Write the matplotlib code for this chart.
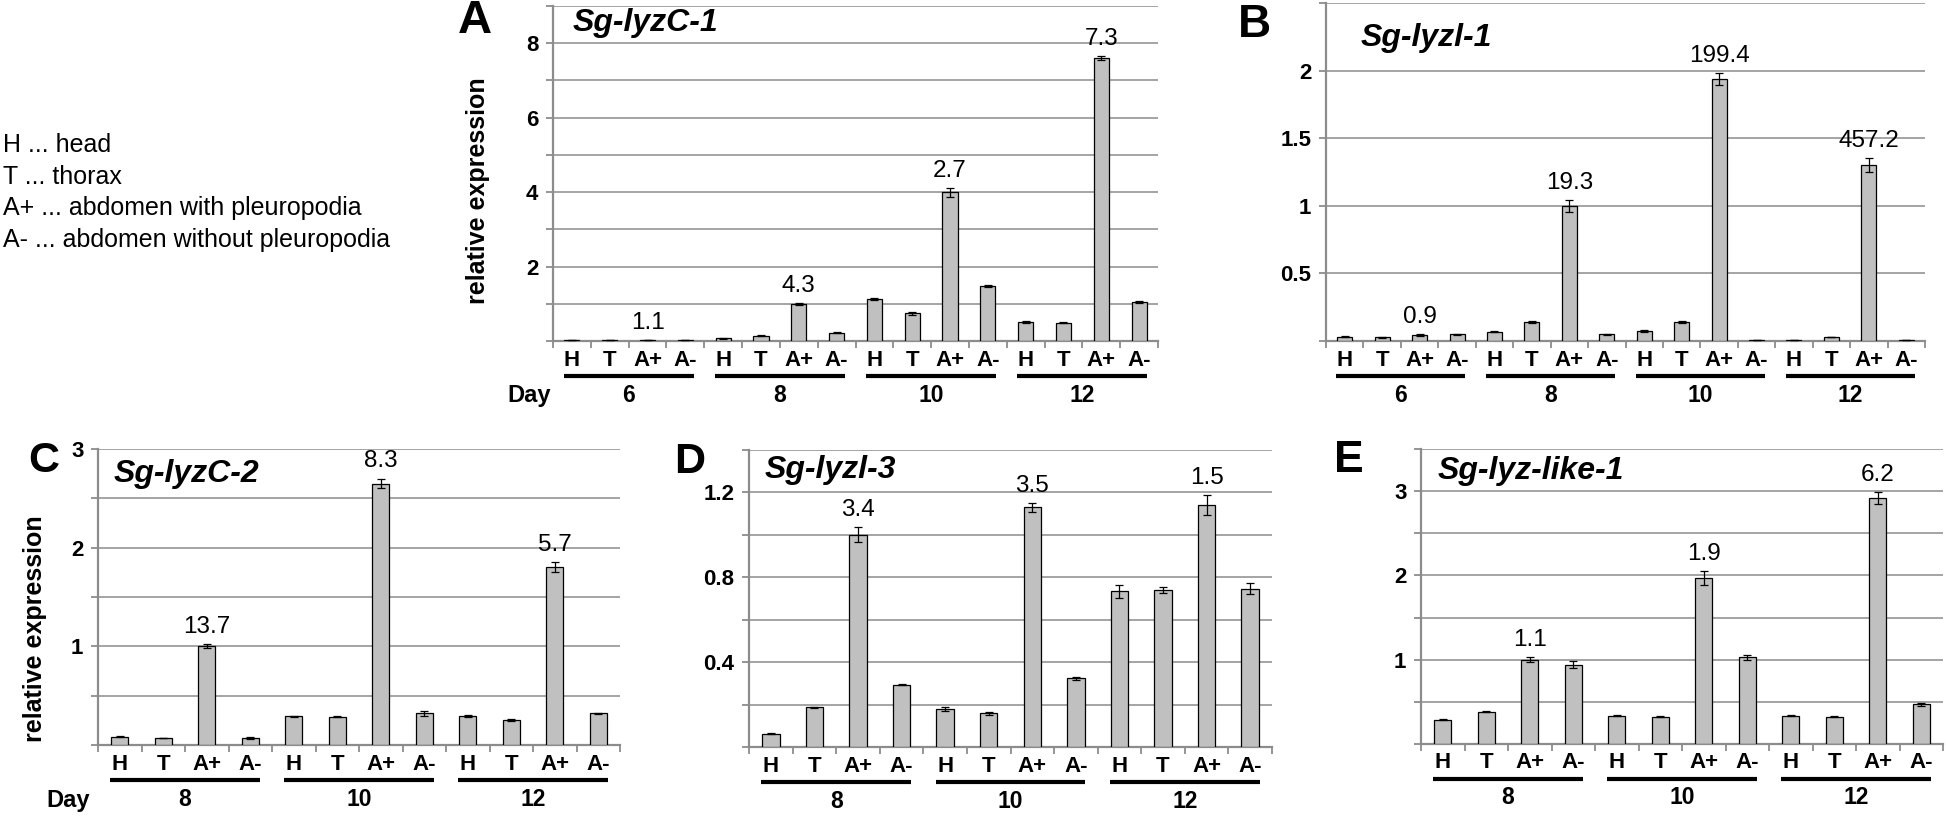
import matplotlib.pyplot as plt
import numpy as np
from matplotlib.transforms import blended_transform_factory

plt.rcParams['font.family'] = ['Liberation Sans', 'DejaVu Sans']

W, H = 1946, 816

tissues = ['H', 'T', 'A+', 'A-']

# A  Sg-lyzC-1
a_days = ['6', '8', '10', '12']
a_vals = [0.03, 0.03, 0.03, 0.03, 0.07, 0.14, 1.0, 0.22,
          1.12, 0.74, 3.99, 1.47, 0.52, 0.49, 7.61, 1.05]
a_err = [0.005, 0.005, 0.005, 0.005, 0.01, 0.01, 0.02, 0.01,
         0.03, 0.03, 0.13, 0.03, 0.03, 0.01, 0.05, 0.03]
a_fold = ['1.1', '4.3', '2.7', '7.3']

# B  Sg-lyzl-1
b_days = ['6', '8', '10', '12']
b_vals = [0.03, 0.027, 0.042, 0.05, 0.07, 0.14, 1.0, 0.05,
          0.072, 0.14, 1.94, 0.008, 0.008, 0.03, 1.30, 0.008]
b_err = [0.004, 0.002, 0.008, 0.002, 0.002, 0.005, 0.045, 0.002,
         0.006, 0.006, 0.045, 0.001, 0.001, 0.002, 0.05, 0.001]
b_fold = ['0.9', '19.3', '199.4', '457.2']

# C  Sg-lyzC-2
c_days = ['8', '10', '12']
c_vals = [0.085, 0.07, 1.0, 0.07, 0.29, 0.285, 2.65, 0.32,
          0.29, 0.25, 1.80, 0.32]
c_err = [0.008, 0.003, 0.02, 0.008, 0.003, 0.005, 0.05, 0.025,
         0.01, 0.01, 0.05, 0.006]
c_fold = ['13.7', '8.3', '5.7']

# D  Sg-lyzl-3
d_days = ['8', '10', '12']
d_vals = [0.063, 0.188, 1.0, 0.293, 0.18, 0.158, 1.13, 0.324,
          0.734, 0.74, 1.142, 0.747]
d_err = [0.002, 0.002, 0.036, 0.003, 0.01, 0.005, 0.02, 0.008,
         0.03, 0.015, 0.047, 0.025]
d_fold = ['3.4', '3.5', '1.5']

# E  Sg-lyz-like-1
e_days = ['8', '10', '12']
e_vals = [0.29, 0.385, 1.0, 0.94, 0.337, 0.325, 1.97, 1.028,
          0.337, 0.325, 2.92, 0.47]
e_err = [0.005, 0.01, 0.03, 0.04, 0.005, 0.01, 0.085, 0.03,
         0.01, 0.004, 0.07, 0.02]
e_fold = ['1.1', '1.9', '6.2']

legend_lines = ['H ... head', 'T ... thorax',
                'A+ ... abdomen with pleuropodia',
                'A- ... abdomen without pleuropodia']

GRID = '#8c8c8c'


def px(x, y):
    return x / W, 1 - y / H


def make_axes(fig, left, right, top, bottom):
    return fig.add_axes([left / W, 1 - bottom / H, (right - left) / W, (bottom - top) / H])


def panel(ax, vals, err, days, fold, ymax, step, labeled):
    n = len(vals)
    x = np.arange(n)
    ax.bar(x, vals, width=0.4, color='#c0c0c0', edgecolor='black', linewidth=0.9, zorder=3)
    ax.errorbar(x, vals, yerr=err, fmt='none', ecolor='black', elinewidth=0.9,
                capsize=3.2, capthick=0.9, zorder=4)
    ax.set_xlim(-0.5, n - 0.5)
    ax.set_ylim(0, ymax)
    yt = np.round(np.arange(0, ymax + step / 2, step), 3)
    ax.set_yticks(yt)
    ax.set_yticklabels(['%g' % v if any(abs(v - l) < 1e-6 for l in labeled) else '' for v in yt],
                       fontsize=16, fontweight='bold')
    ax.set_xticks(np.arange(-0.5, n, 1.0))
    ax.set_xticklabels([])
    ax.tick_params(axis='y', direction='out', length=5, width=1.3, color=GRID, pad=5.5)
    ax.tick_params(axis='x', direction='out', length=5, width=1.3, color=GRID)
    ax.yaxis.grid(True, color=GRID, linewidth=1.1, zorder=0)
    ax.set_axisbelow(True)
    for s in ['top', 'right']:
        ax.spines[s].set_visible(False)
    for s in ['left', 'bottom']:
        ax.spines[s].set_color(GRID)
        ax.spines[s].set_linewidth(1.6)

    bh = ax.get_position().height * H
    tr = blended_transform_factory(ax.transData, ax.transAxes)
    for i in range(n):
        ax.text(x[i], -19 / bh, tissues[i % 4], transform=tr, ha='center', va='center',
                fontsize=16, fontweight='bold')
    for g, d in enumerate(days):
        x0 = 4 * g - 0.5 + 0.28
        x1 = 4 * g + 3.5 - 0.28
        ax.plot([x0, x1], [-35 / bh, -35 / bh], transform=tr, color='black', lw=3.0,
                solid_capstyle='butt', clip_on=False)
        ax.text(4 * g + 1.5, -54 / bh, d, transform=tr, ha='center', va='center',
                fontsize=16.5, fontweight='bold')
        k = 4 * g + 2
        ax.annotate(fold[g], xy=(x[k], vals[k] + err[k]), xytext=(0, 8),
                    textcoords='offset points', ha='center', va='baseline', fontsize=17.5)


fig = plt.figure(figsize=(W / 100, H / 100), dpi=100)

axA = make_axes(fig, 553, 1158, 6, 341)
panel(axA, a_vals, a_err, a_days, a_fold, 9, 1, [2, 4, 6, 8])
axB = make_axes(fig, 1326, 1925, 3, 341)
panel(axB, b_vals, b_err, b_days, b_fold, 2.5, 0.5, [0.5, 1, 1.5, 2])
axC = make_axes(fig, 98, 620, 449, 745)
panel(axC, c_vals, c_err, c_days, c_fold, 3, 0.5, [1, 2, 3])
axD = make_axes(fig, 749, 1272, 450, 747)
panel(axD, d_vals, d_err, d_days, d_fold, 1.4, 0.2, [0.4, 0.8, 1.2])
axE = make_axes(fig, 1421, 1943, 449, 744)
panel(axE, e_vals, e_err, e_days, e_fold, 3.5, 0.5, [1, 2, 3])

titles = [('Sg-lyzC-1', 573, 23), ('Sg-lyzl-1', 1361, 38), ('Sg-lyzC-2', 114, 474),
          ('Sg-lyzl-3', 765, 470), ('Sg-lyz-like-1', 1438, 471)]
for t, xx, yy in titles:
    fig.text(*px(xx, yy), t, ha='left', va='center', fontsize=23,
             fontweight='bold', fontstyle='italic')

letters = [('A', 458, 21, 34), ('B', 1238, 25, 33), ('C', 28, 461, 31),
           ('D', 674, 462, 31), ('E', 1334, 461, 32)]
for t, xx, yy, fs in letters:
    fig.text(*px(xx, yy), t, ha='left', va='center', fontsize=fs, fontweight='bold')

fig.text(*px(478, 191), 'relative expression', rotation=90, ha='center', va='center',
         fontsize=18, fontweight='bold')
fig.text(*px(35, 629), 'relative expression', rotation=90, ha='center', va='center',
         fontsize=18, fontweight='bold')
fig.text(*px(551, 395), 'Day', ha='right', va='center', fontsize=17, fontweight='bold')
fig.text(*px(90, 800), 'Day', ha='right', va='center', fontsize=17, fontweight='bold')

for i, line in enumerate(legend_lines):
    fig.text(*px(3, 145 + 31.5 * i), line, ha='left', va='center', fontsize=18)

fig.savefig('out.png', dpi=100)
